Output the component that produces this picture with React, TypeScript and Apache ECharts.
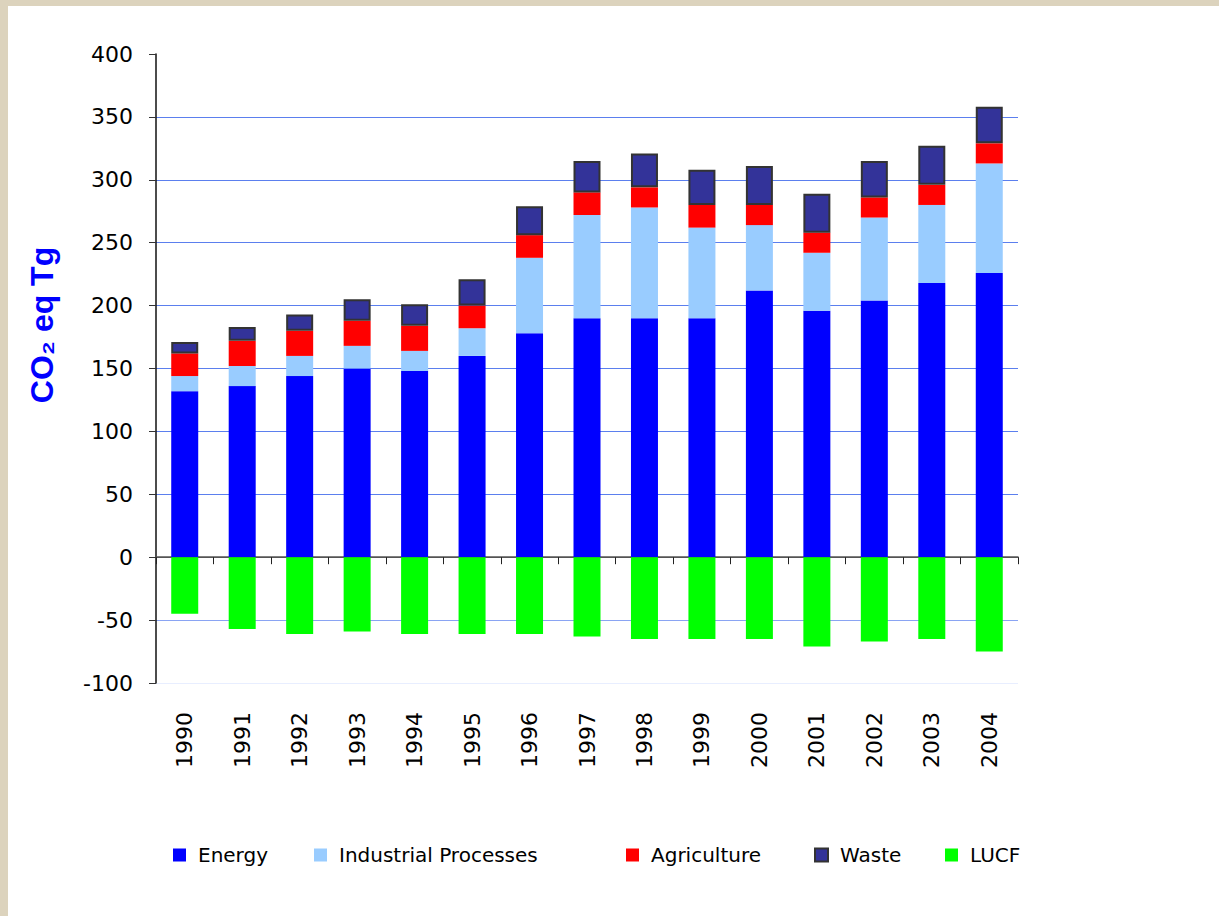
import React, { useEffect, useRef } from "react";
import * as echarts from "echarts";

const years = ["1990","1991","1992","1993","1994","1995","1996","1997","1998","1999","2000","2001","2002","2003","2004"];
const energy = [132,136,144,150,148,160,178,190,190,190,212,196,204,218,226];
const industrial = [12,16,16,18,16,22,60,82,88,72,52,46,66,62,87];
const agriculture = [18,20,20,20,20,18,18,18,16,18,16,16,16,16,16];
const waste = [9,11,13,17,17,21,23,25,27,28,31,31,29,31,29];
const lucf = [-45,-57,-61,-59,-61,-61,-61,-63,-65,-65,-65,-71,-67,-65,-75];
const seriesNames = ["Energy","Industrial Processes","Agriculture","Waste","LUCF"];
const yTicks = { min: -100, max: 400, interval: 50 };

export default function App() {
  const ref = useRef<HTMLDivElement>(null);
  useEffect(() => {
    const chart = echarts.init(ref.current!, null, { renderer: "svg" });
    const numFont = "'DejaVu Sans', sans-serif";
    const legendLefts = [168, 309, 621, 809, 940];
    const colors = ["#0000ff", "#99ccff", "#ff0000", "#333399", "#00ff00"];
    const datasets = [energy, industrial, agriculture, waste, lucf];
    chart.setOption({
      animation: false,
      backgroundColor: "#ffffff",
      grid: { left: 156, top: 54, right: 201, bottom: 233 },
      legend: seriesNames.map((n, i) => ({
        data: [n],
        left: legendLefts[i],
        top: 840,
        icon: "rect",
        itemWidth: 13,
        itemHeight: 13,
        textStyle: { fontFamily: numFont, fontSize: 20, color: "#000", padding: [0, 0, 0, 7] },
      })),
      graphic: [
        { type: "rect", shape: { x: 0, y: 0, width: 8, height: 916 }, style: { fill: "#dcd3bd" }, silent: true },
        { type: "rect", shape: { x: 0, y: 0, width: 1219, height: 6 }, style: { fill: "#dcd3bd" }, silent: true },
        {
          type: "text",
          x: 42,
          y: 325,
          rotation: Math.PI / 2,
          style: {
            text: "CO₂ eq Tg",
            fill: "#0000ff",
            font: "bold 32px 'Liberation Sans', Arial, sans-serif",
            textAlign: "center",
            textVerticalAlign: "middle",
          },
        },
      ],
      xAxis: [
        {
          type: "category",
          data: years,
          position: "bottom",
          axisLine: { show: false, onZero: false },
          axisTick: { show: false },
          axisLabel: { rotate: 90, margin: 29, fontFamily: numFont, fontSize: 22, color: "#000" },
        },
        {
          type: "category",
          data: years,
          position: "bottom",
          axisLine: { show: true, onZero: true, lineStyle: { color: "#555", width: 1.5 } },
          axisTick: { show: true, length: 7, lineStyle: { color: "#222" } },
          axisLabel: { show: false },
        },
      ],
      yAxis: {
        type: "value",
        min: yTicks.min,
        max: yTicks.max,
        interval: yTicks.interval,
        axisLine: { show: true, lineStyle: { color: "#111", width: 1.5 } },
        axisTick: { show: true, length: 7, lineStyle: { color: "#333" } },
        axisLabel: { margin: 23, fontFamily: numFont, fontSize: 22, color: "#000" },
        splitLine: {
          show: true,
          lineStyle: {
            width: 1,
            color: ["#e8eeff", "#8aa4f3", "#555555", "#5b7fee", "#5b7fee", "#5b7fee", "#5b7fee", "#5b7fee", "#5b7fee", "#5b7fee", "rgba(0,0,0,0)"],
          },
        },
      },
      series: seriesNames.map((n, i) => ({
        name: n,
        type: "bar",
        stack: "total",
        xAxisIndex: 0,
        barWidth: 27,
        data: datasets[i],
        itemStyle: i === 3
          ? { color: colors[i], borderColor: "#333333", borderWidth: 2 }
          : { color: colors[i] },
      })),
    });
    return () => chart.dispose();
  }, []);
  return (
    <div style={{ position: "fixed", left: 0, top: 0, width: 1219, height: 916 }}>
      <div ref={ref} style={{ width: 1219, height: 916 }} />
    </div>
  );
}
